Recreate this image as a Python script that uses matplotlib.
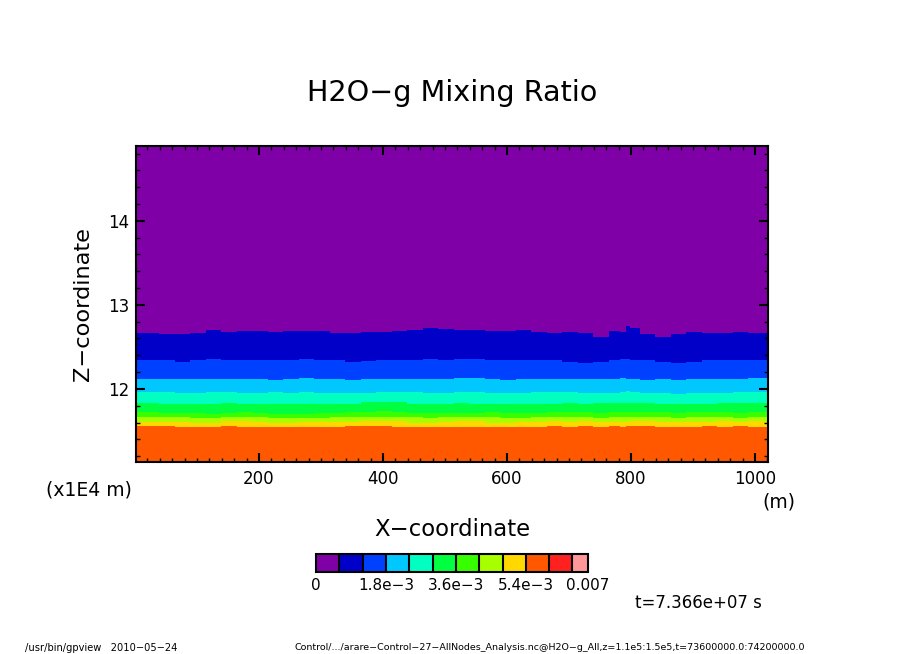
import matplotlib
matplotlib.use("Agg")
import matplotlib.pyplot as plt
from matplotlib.cm import ScalarMappable
from matplotlib.colors import BoundaryNorm, ListedColormap
from matplotlib.ticker import MultipleLocator

W, H = 904, 654

# level boundaries, x in m, z in 1E4 m
x = [2, 27, 52, 77, 102, 127, 152, 177, 202, 227, 252, 277, 302, 327, 352, 377, 402, 427, 452, 477, 502,
     527, 552, 577, 602, 627, 652, 677, 702, 727, 752, 777, 788, 796, 802, 827, 852, 877, 902, 927, 952, 977, 1002, 1027]

z_purple = [12.67, 12.665, 12.65, 12.655, 12.66, 12.695, 12.68, 12.69, 12.69, 12.68, 12.69, 12.69, 12.69, 12.665, 12.665, 12.68, 12.68, 12.69, 12.70, 12.72, 12.71,
            12.70, 12.70, 12.69, 12.69, 12.70, 12.675, 12.665, 12.68, 12.67, 12.62, 12.69, 12.68, 12.75, 12.73, 12.655, 12.62, 12.655, 12.675, 12.67, 12.67, 12.68, 12.67, 12.67]
z_navy = [12.34, 12.34, 12.34, 12.325, 12.34, 12.35, 12.34, 12.34, 12.345, 12.34, 12.345, 12.35, 12.345, 12.34, 12.325, 12.33, 12.34, 12.34, 12.34, 12.35, 12.345,
          12.35, 12.36, 12.345, 12.345, 12.345, 12.34, 12.34, 12.325, 12.31, 12.325, 12.345, 12.35, 12.35, 12.345, 12.34, 12.32, 12.31, 12.325, 12.34, 12.345, 12.345, 12.345, 12.345]
z_blue = [12.12, 12.12, 12.12, 12.115, 12.115, 12.115, 12.12, 12.115, 12.115, 12.11, 12.115, 12.13, 12.115, 12.115, 12.11, 12.115, 12.115, 12.12, 12.115, 12.115, 12.12,
          12.13, 12.13, 12.115, 12.11, 12.115, 12.115, 12.12, 12.115, 12.115, 12.12, 12.12, 12.125, 12.12, 12.12, 12.11, 12.12, 12.10, 12.115, 12.115, 12.12, 12.115, 12.13, 12.13]
z_cyan = [11.965, 11.965, 11.965, 11.955, 11.955, 11.96, 11.965, 11.95, 11.955, 11.965, 11.95, 11.965, 11.955, 11.955, 11.95, 11.955, 11.965, 11.965, 11.96, 11.955, 11.955,
          11.965, 11.965, 11.955, 11.95, 11.955, 11.96, 11.96, 11.965, 11.955, 11.95, 11.955, 11.965, 11.97, 11.965, 11.955, 11.955, 11.94, 11.95, 11.955, 11.955, 11.965, 11.965, 11.965]
z_teal = [11.83, 11.83, 11.82, 11.82, 11.815, 11.815, 11.83, 11.82, 11.815, 11.815, 11.82, 11.82, 11.82, 11.815, 11.82, 11.84, 11.84, 11.84, 11.82, 11.82, 11.82,
          11.83, 11.82, 11.82, 11.815, 11.815, 11.82, 11.82, 11.83, 11.82, 11.83, 11.83, 11.83, 11.83, 11.83, 11.83, 11.82, 11.82, 11.815, 11.82, 11.83, 11.83, 11.83, 11.83]
z_green = [11.72, 11.72, 11.71, 11.71, 11.71, 11.70, 11.71, 11.725, 11.71, 11.70, 11.70, 11.70, 11.71, 11.71, 11.72, 11.725, 11.735, 11.725, 11.71, 11.71, 11.71,
           11.71, 11.71, 11.72, 11.71, 11.71, 11.71, 11.72, 11.72, 11.725, 11.71, 11.72, 11.72, 11.72, 11.72, 11.72, 11.72, 11.71, 11.72, 11.725, 11.72, 11.71, 11.72, 11.72]
z_lime = [11.66, 11.66, 11.66, 11.66, 11.655, 11.655, 11.67, 11.67, 11.66, 11.655, 11.655, 11.655, 11.655, 11.66, 11.66, 11.67, 11.67, 11.67, 11.66, 11.65, 11.66,
          11.66, 11.66, 11.66, 11.655, 11.655, 11.66, 11.67, 11.66, 11.66, 11.655, 11.67, 11.66, 11.66, 11.66, 11.66, 11.66, 11.655, 11.66, 11.66, 11.67, 11.655, 11.66, 11.66]
z_chart = [11.605, 11.605, 11.605, 11.605, 11.60, 11.60, 11.615, 11.615, 11.605, 11.60, 11.60, 11.605, 11.605, 11.605, 11.605, 11.615, 11.62, 11.615, 11.60, 11.60, 11.605,
           11.615, 11.615, 11.60, 11.60, 11.605, 11.605, 11.615, 11.605, 11.615, 11.605, 11.605, 11.605, 11.605, 11.615, 11.615, 11.605, 11.605, 11.605, 11.605, 11.615, 11.605, 11.615, 11.605]
z_yellow = [11.56, 11.56, 11.56, 11.55, 11.55, 11.55, 11.56, 11.55, 11.55, 11.55, 11.55, 11.55, 11.55, 11.55, 11.56, 11.56, 11.56, 11.55, 11.545, 11.545, 11.55,
            11.55, 11.55, 11.55, 11.55, 11.55, 11.55, 11.56, 11.55, 11.56, 11.55, 11.56, 11.55, 11.56, 11.56, 11.56, 11.55, 11.55, 11.55, 11.56, 11.55, 11.56, 11.55, 11.55]

levels = [0, 6e-4, 1.2e-3, 1.8e-3, 2.4e-3, 3e-3, 3.6e-3, 4.2e-3, 4.8e-3, 5.4e-3, 6e-3, 6.6e-3, 7e-3]
colors = ["#8000a8", "#0000c8", "#0040ff", "#00c8ff", "#00ffc0", "#00ff40",
          "#38ff00", "#a8ff00", "#ffd800", "#ff5800", "#ff2020", "#ff9898"]
cbar_ticks = [0, 1.8e-3, 3.6e-3, 5.4e-3, 7e-3]
cbar_labels = ["0", "1.8e\u22123", "3.6e\u22123", "5.4e\u22123", "0.007"]

xlim = (1.6, 1021)
zlim = (11.13, 14.89)

plt.rcParams["font.family"] = ["DejaVu Sans"]


def px_text(fig, px, py, s, **kw):
    # place text by pixel position on the page
    fig.text(px / W, 1 - py / H, s, ha=kw.pop("ha", "center"), va=kw.pop("va", "center"), **kw)


def main():
    fig = plt.figure(figsize=(W / 100, H / 100), dpi=100)
    ax = fig.add_axes([136 / W, 1 - 462 / H, 632 / W, 316 / H])

    bounds = [z_purple, z_navy, z_blue, z_cyan, z_teal, z_green, z_lime, z_chart, z_yellow]
    ax.fill_between(x, z_purple, zlim[1], color=colors[0], lw=0, antialiased=False, step="mid")
    for i in range(len(bounds) - 1):
        ax.fill_between(x, bounds[i + 1], bounds[i], color=colors[i + 1], lw=0, antialiased=False, step="mid")
    ax.fill_between(x, zlim[0], z_yellow, color=colors[9], lw=0, antialiased=False, step="mid")

    ax.set_xlim(xlim)
    ax.set_ylim(zlim)
    ax.xaxis.set_major_locator(MultipleLocator(200))
    ax.xaxis.set_minor_locator(MultipleLocator(20))
    ax.yaxis.set_major_locator(MultipleLocator(1))
    ax.yaxis.set_minor_locator(MultipleLocator(0.2))
    ax.tick_params(which="major", direction="in", top=True, right=True, length=6.5, width=1.5, labelsize=12)
    ax.tick_params(which="minor", direction="in", top=True, right=True, length=3, width=1)
    ax.tick_params(axis="x", which="major", pad=6)
    ax.tick_params(axis="y", which="major", pad=5)
    for s in ax.spines.values():
        s.set_linewidth(1.5)

    cax = fig.add_axes([316 / W, 1 - 572 / H, 272 / W, 18 / H])
    norm = BoundaryNorm(levels, len(colors))
    sm = ScalarMappable(norm=norm, cmap=ListedColormap(colors))
    cb = fig.colorbar(sm, cax=cax, orientation="horizontal", spacing="proportional", drawedges=True)
    cb.dividers.set_linewidth(1.5)
    cb.dividers.set_color("black")
    cb.outline.set_linewidth(1.5)
    cb.set_ticks(cbar_ticks)
    cb.set_ticklabels(cbar_labels)
    cb.ax.minorticks_off()
    cb.ax.tick_params(length=0, labelsize=11, pad=4)

    px_text(fig, 452, 93, "H2O\u2212g Mixing Ratio", fontsize=20.6)
    px_text(fig, 452, 529, "X\u2212coordinate", fontsize=16.4)
    px_text(fig, 83, 304, "Z\u2212coordinate", fontsize=16.2, rotation=90)
    px_text(fig, 89, 490, "(x1E4 m)", fontsize=13.5)
    px_text(fig, 779, 502, "(m)", fontsize=13.5)
    px_text(fig, 698, 603, "t=7.366e+07 s", fontsize=12)
    px_text(fig, 25, 648, "/usr/bin/gpview   2010\u221205\u221224", ha="left", fontsize=7.1)
    px_text(fig, 295, 648, "Control/.../arare\u2212Control\u221227\u2212AllNodes_Analysis.nc@H2O\u2212g_All,z=1.1e5:1.5e5,t=73600000.0:74200000.0",
            ha="left", fontsize=6.8)

    fig.savefig("out.png", dpi=100)


if __name__ == "__main__":
    main()
